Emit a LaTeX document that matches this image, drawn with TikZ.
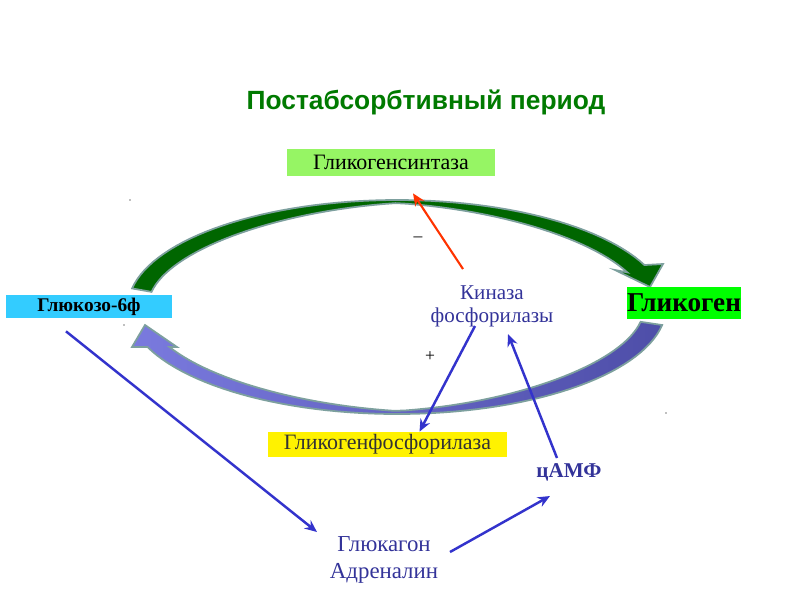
\documentclass[tikz,border=0pt]{standalone}
\usepackage{fontspec}
\setmainfont{Liberation Serif}
\newfontfamily\headfont{Liberation Sans}
\usetikzlibrary{arrows.meta,calc}
\definecolor{titlegreen}{RGB}{0,122,0}
\definecolor{synthgreen}{RGB}{150,245,100}
\definecolor{glycgreen}{RGB}{0,255,0}
\definecolor{glucblue}{RGB}{51,204,255}
\definecolor{kinblue}{RGB}{51,51,153}
\definecolor{arrowblue}{RGB}{51,51,204}
\definecolor{inhibred}{RGB}{255,51,0}
\definecolor{cycfill}{RGB}{0,102,0}
\definecolor{cycedge}{RGB}{125,160,158}
\definecolor{cycleft}{RGB}{122,122,222}
\definecolor{cycright}{RGB}{78,78,168}

\begin{document}
\begin{tikzpicture}[x=0.02cm, y=-0.02cm, > = {Stealth[length=7pt,width=6pt]},
    box/.style = {inner sep=0pt},
    link/.style = {->, line width=1.4pt, arrowblue},
    sign/.style = {font=\fontsize{10}{12}\selectfont}]

    \useasboundingbox (0,0) rectangle (800,600);

    % cycle
    \filldraw[fill=cycfill, draw=cycedge, line width=1pt]
        plot[domain=170:23.1, samples=60, variable=\t] ({397+269*cos(\t)},{307-107*sin(\t)})
        -- (663,264) -- (650,287) -- (615,270)
        -- plot[domain=23.1:170, samples=60, variable=\t]
            ({397+(269-3-17*abs(cos(\t)))*cos(\t)},{307-(107-3-17*abs(cos(\t)))*sin(\t)}) -- cycle;
    \path[draw=cycedge, line width=1pt, left color=cycleft, right color=cycright]
        plot[domain=-9.7:-158.05, samples=60, variable=\t] ({397+269*cos(\t)},{307-107*sin(\t)})
        -- (132,347) -- (145,325) -- (177,347)
        -- plot[domain=-154:-10, samples=60, variable=\t]
            ({397+(269-3-abs(cos(\t))*(16.5+2.5*cos(\t)))*cos(\t)},{307-(107-3-abs(cos(\t))*(16.5+2.5*cos(\t)))*sin(\t)}) -- cycle;

    % labels
    \node (title) at (426,102) {\headfont\bfseries\fontsize{15}{18}\selectfont\color{titlegreen}Постабсорбтивный период};
    \node[box, fill=synthgreen, minimum width=4.16cm, minimum height=0.54cm, font=\fontsize{12.5}{15}\selectfont] (synthase) at (391,162.5) {Гликогенсинтаза};
    \node[box, fill=glycgreen, minimum width=2.24cm, minimum height=0.64cm, font=\bfseries\fontsize{15.5}{18}\selectfont] (glycogen) at (684,303) {Гликоген};
    \node[box, fill=glucblue, minimum width=3.32cm, minimum height=0.46cm, font=\bfseries\fontsize{11}{13}\selectfont] (g6p) at (89,306.5) {Глюкозо-6ф};
    \node[align=center, text=kinblue, font=\fontsize{12}{13}\selectfont] (kinase) at (492,306) {Киназа\\фосфорилазы};
    \node[box, fill=yellow, minimum width=4.78cm, minimum height=0.5cm, text=black!80, font=\fontsize{12.5}{15}\selectfont] (phosph) at (387.5,444.5) {Гликогенфосфорилаза};
    \node[text=kinblue, font=\bfseries\fontsize{12}{15}\selectfont] (camp) at (569,472) {цАМФ};
    \node[align=center, text=kinblue, font=\fontsize{13}{15.3}\selectfont] (hormones) at (384,559.5) {Глюкагон\\Адреналин};
    \node[sign] (minus) at (418,239) {--};
    \node[sign] (plus) at (430,357) {+};

    % arrows
    \draw[->, line width=1.2pt, inhibred] ($(kinase.center)+(-29,-37)$) -- ($(synthase.south)+(22,17)$);
    \draw[link] ($(kinase.center)+(-17,20)$) -- ($(phosph.north)+(32,0)$);
    \draw[link] ($(camp.center)+(-12,-14)$) -- ($(kinase.center)+(16,28)$);
    \draw[link] ($(g6p.south)+(-23,13)$) -- ($(hormones.center)+(-67,-27.5)$);
    \draw[link] ($(hormones.center)+(66,-7.5)$) -- ($(camp.center)+(-19,24)$);

    % specks
    \foreach \p in {(130,200),(124,325),(666,413)}
        \fill[gray] \p circle (0.8);

\end{tikzpicture}
\end{document}
